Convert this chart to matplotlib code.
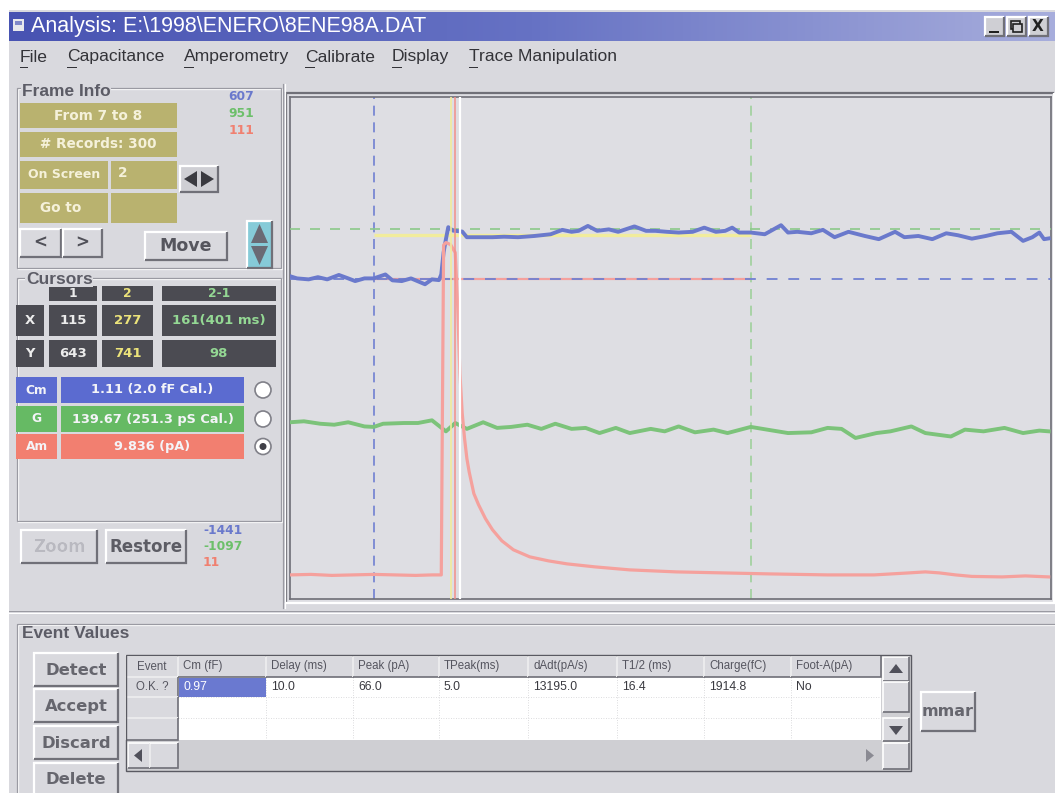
import matplotlib
matplotlib.use("Agg")
import matplotlib.pyplot as plt
from matplotlib.patches import Rectangle, Circle, Polygon
from matplotlib.colors import LinearSegmentedColormap
import numpy as np

x_window = [79, 406]            # samples visible on screen
cursor_x = [115, 277]           # cursor 1, cursor 2 (samples)
event_marks = [148, 150, 152]   # onset (yellow), peak (red), marker (white)

cm_range = [-1441, 607]         # blue trace scale (bottom, top labels)
g_range = [-1097, 951]          # green trace scale
amp_range = [11, 111]           # red trace scale (pA)

cm_levels = [-135, 67]          # pre / post Cm levels (dashed)
cursor_levels = [-135, 45]      # cursor 1 / cursor 2 levels (Cm units)

cm_s = [79, 82, 87, 91, 95, 100, 104, 107, 111, 115,
        120, 123, 127, 131, 137, 140, 143, 144, 145, 146,
        147, 149, 153, 155, 160, 166, 171, 177, 184, 191,
        196, 200, 203, 207, 211, 216, 220, 227, 232, 236,
        241, 246, 252, 257, 262, 266, 269, 272, 277, 283,
        290, 293, 297, 303, 308, 313, 319, 326, 332, 339,
        343, 349, 355, 361, 366, 372, 378, 383, 389, 394,
        398, 401, 403, 405]
cm_v = [-124, -133, -137, -128, -137, -119, -133, -144, -133, -133,
        -117, -141, -144, -133, -157, -137, -140, -117, -27, 27,
        76, 62, 58, 35, 35, 35, 37, 35, 40, 47,
        65, 57, 61, 81, 61, 67, 57, 79, 61, 61,
        57, 54, 57, 74, 57, 61, 74, 54, 54, 47,
        84, 54, 57, 51, 65, 35, 57, 40, 27, 57,
        35, 40, 27, 51, 43, 29, 40, 51, 57, 20,
        35, 54, 27, 30]

g_s = [79, 85, 92, 98, 104, 111, 115, 119, 128, 134,
       140, 146, 150, 155, 162, 168, 174, 181, 187, 193,
       200, 206, 212, 219, 225, 234, 240, 246, 253, 261,
       267, 277, 284, 293, 303, 310, 316, 322, 331, 337,
       346, 352, 363, 369, 377, 386, 394, 401, 405]
g_v = [-376, -372, -382, -386, -376, -393, -395, -382, -379, -379,
       -368, -413, -379, -403, -376, -399, -395, -386, -403, -382,
       -403, -399, -420, -399, -420, -403, -413, -393, -417, -406,
       -420, -395, -406, -420, -417, -399, -403, -440, -420, -413,
       -393, -420, -434, -406, -413, -399, -420, -410, -413]

amp_s = [79, 88, 97, 106, 115, 124, 133, 140, 144, 145,
         146, 148, 150, 151, 152, 153, 154, 155, 156, 158,
         160, 163, 166, 170, 175, 182, 190, 198, 210, 225,
         245, 265, 285, 310, 330, 345, 352, 358, 365, 372,
         385, 395, 405]
amp_v = [15.8, 15.9, 15.7, 15.8, 15.9, 15.8, 15.7, 15.8, 15.8, 81.5,
         82.0, 81.6, 80.0, 70.0, 56.0, 48.0, 43.0, 39.0, 36.3, 32.0,
         29.8, 27.0, 24.8, 22.6, 20.8, 19.4, 18.6, 18.0, 17.4, 16.8,
         16.4, 16.2, 16.0, 15.8, 15.8, 16.2, 16.4, 16.2, 15.8, 15.5,
         15.4, 15.6, 15.4]

scale_top = ["607", "951", "111"]
scale_bottom = ["-1441", "-1097", "11"]
menu_items = ["File", "Capacitance", "Amperometry", "Calibrate", "Display", "Trace Manipulation"]
frame_info = ["From 7 to 8", "# Records: 300", "On Screen", "2", "Go to"]
cursor_hdr = ["1", "2", "2-1"]
cursor_rows = [["X", "115", "277", "161(401 ms)"], ["Y", "643", "741", "98"]]
readouts = [["Cm", "1.11 (2.0 fF Cal.)"], ["G", "139.67 (251.3 pS Cal.)"], ["Am", "9.836 (pA)"]]
table_cols = ["Event", "Cm (fF)", "Delay (ms)", "Peak (pA)", "TPeak(ms)",
              "dAdt(pA/s)", "T1/2 (ms)", "Charge(fC)", "Foot-A(pA)"]
table_row = ["O.K. ?", "0.97", "10.0", "66.0", "5.0", "13195.0", "16.4", "1914.8", "No"]
buttons = ["Detect", "Accept", "Discard", "Delete"]

# ---------------- colours ----------------
WIN = '#d9d9de'
PLOT_BG = '#dedee3'
BLUE = '#6a79cc'
GREEN = '#7cc37a'
RED = '#f5a19d'
YELLOW = '#f1ec9c'
OLIVE = '#b9b26f'
DARK = '#4b4b52'
SHADOW = '#707078'
BTN_TXT = '#66666e'

W, H = 1055, 793
fig = plt.figure(figsize=(W / 100, H / 100), dpi=100)
fig.patch.set_facecolor('white')
bg = fig.add_axes([0, 0, 1, 1])
bg.set_xlim(0, W)
bg.set_ylim(H, 0)
bg.axis('off')
PX = 0.72  # points per pixel


def box(x0, y0, x1, y1, fc, ec='none', lw=0, z=1):
    bg.add_patch(Rectangle((x0, y0), x1 - x0, y1 - y0, facecolor=fc,
                           edgecolor=ec, linewidth=lw, zorder=z))


def bevel(x0, y0, x1, y1, fc=WIN, raised=True, z=2, w=1.6):
    box(x0, y0, x1, y1, fc, z=z)
    light, dark = ('white', SHADOW) if raised else (SHADOW, 'white')
    bg.plot([x0, x0, x1], [y1, y0, y0], color=light, lw=w * PX * 1.4, zorder=z + 0.1,
            solid_capstyle='butt', solid_joinstyle='miter')
    bg.plot([x0, x1, x1], [y1, y1, y0], color=dark, lw=w * PX * 1.4, zorder=z + 0.1,
            solid_capstyle='butt', solid_joinstyle='miter')


def txt(x, y, s, size=9, color='#303030', weight='normal', ha='left',
        family='DejaVu Sans', z=5, **kw):
    return bg.text(x, y, s, fontsize=size, color=color, fontweight=weight, ha=ha,
                   va='center', family=family, zorder=z, **kw)


def etched(x0, y0, x1, y1):
    bg.add_patch(Rectangle((x0, y0), x1 - x0, y1 - y0, fill=False,
                           edgecolor='#9a9aa2', lw=0.9, zorder=1.5))
    bg.add_patch(Rectangle((x0 + 1.3, y0 + 1.3), x1 - x0, y1 - y0, fill=False,
                           edgecolor='white', lw=0.9, zorder=1.4))


def tri(points, color='#303030', z=6):
    bg.add_patch(Polygon(points, closed=True, facecolor=color, edgecolor='none', zorder=z))


# window body
box(9, 10, W, H, WIN, z=0.5)

# title bar with gradient
cmap = LinearSegmentedColormap.from_list('tb', ['#4853b2', '#6672c4', '#a7addc'])
bg.imshow(np.linspace(0, 1, 256)[None, :], cmap=cmap, extent=(9, W, 41, 12),
          aspect='auto', zorder=1, interpolation='bilinear')
box(13, 19, 24, 31, '#e8e8ec', z=2)
box(15, 21, 22, 25, '#8088c8', z=2.1)
txt(31, 26.5, r"Analysis: E:\1998\ENERO\8ENE98A.DAT", size=15.5, color='white',
    family='Liberation Sans')
for i, g in enumerate(['_', '', 'X']):
    x0 = 985 + i * 22
    bevel(x0, 17, x0 + 19, 36, fc='#cfcfd4', z=2)
bg.plot([990, 998], [32, 32], color='#202020', lw=2 * PX, zorder=3)
box(1011, 21, 1020, 29, 'none', ec='#202020', lw=1.2, z=3)
box(1013, 24, 1022, 32, '#cfcfd4', ec='#202020', lw=1.2, z=3.1)
txt(1038, 26.5, 'X', size=11, weight='bold', color='#202020', ha='center', z=4)

# menu bar
menu_x = [20, 67, 184, 305, 392, 469]
first_w = [7, 9, 9, 9, 9, 8]
for m, x, fw in zip(menu_items, menu_x, first_w):
    txt(x, 57, m, size=12.6, color='#333338', family='Liberation Sans')
    bg.plot([x, x + fw], [66.5, 66.5], color='#333338', lw=1 * PX, zorder=5)

# ---------------- left panel ----------------
bg.plot([283, 283], [84, 608], color='#9a9aa2', lw=1.2 * PX, zorder=1.5)
bg.plot([284.5, 284.5], [84, 608], color='white', lw=1.2 * PX, zorder=1.5)

etched(17, 88, 281, 268)
txt(22, 91, "Frame Info", size=12.5, weight='bold', color='#5c5c66',
    family='Liberation Sans', z=6,
    bbox=dict(facecolor=WIN, edgecolor='none', pad=0.5))

CREAM = '#f5f1da'
box(20, 103, 177, 128, OLIVE, z=2)
txt(98.5, 115.5, frame_info[0], size=9.8, weight='bold', color=CREAM, ha='center')
box(20, 132, 177, 157, OLIVE, z=2)
txt(98.5, 144.5, frame_info[1], size=9.8, weight='bold', color=CREAM, ha='center')
box(20, 161, 108, 189, OLIVE, z=2)
txt(64, 175, frame_info[2], size=9.0, weight='bold', color=CREAM, ha='center')
box(111, 161, 177, 189, OLIVE, z=2)
txt(118, 173, frame_info[3], size=9.8, weight='bold', color=CREAM)
box(20, 193, 108, 223, OLIVE, z=2)
txt(61, 208, frame_info[4], size=9.8, weight='bold', color=CREAM, ha='center')
box(111, 193, 177, 223, OLIVE, z=2)

bevel(180, 166, 218, 192, fc='#cfcfd4', z=2)
tri([(184, 179), (197, 171), (197, 187)], color='#3a3a40')
tri([(214, 179), (201, 171), (201, 187)], color='#3a3a40')

bevel(20, 229, 61, 257, z=2)
txt(40.5, 243, "<", size=12, weight='bold', color='#505058', ha='center')
bevel(63, 229, 102, 257, z=2)
txt(82.5, 243, ">", size=12, weight='bold', color='#505058', ha='center')
bevel(145, 232, 227, 260, z=2)
txt(186, 246, "Move", size=12.5, weight='bold', color='#55555d', ha='center')

bevel(247, 221, 272, 268, fc='#86cbd8', z=2)
tri([(259.5, 224), (251, 243), (268, 243)], color='#6a6a74')
tri([(259.5, 265), (251, 246), (268, 246)], color='#6a6a74')

scale_cols = [BLUE, '#6cbf6a', '#f08070']
for i, (lab, c) in enumerate(zip(scale_top, scale_cols)):
    txt(254, 97 + i * 16.5, lab, size=8.8, weight='bold', color=c, ha='right')

# Cursors panel
etched(17, 278, 281, 521)
txt(26, 279, "Cursors", size=12.5, weight='bold', color='#5c5c66',
    family='Liberation Sans', z=6,
    bbox=dict(facecolor=WIN, edgecolor='none', pad=0.5))
hdr_cols = ['#ececec', '#ece37a', '#94d894']
cells_x = [(49, 97), (102, 153), (162, 276)]
for (x0, x1), lab, c in zip(cells_x, cursor_hdr, hdr_cols):
    box(x0, 286, x1, 301, DARK, z=2)
    txt((x0 + x1) / 2, 293.5, lab, size=8.8, weight='bold', color=c, ha='center')
for r, (y0, y1) in enumerate([(305, 336), (340, 367)]):
    row = cursor_rows[r]
    box(16, y0, 44, y1, DARK, z=2)
    txt(30, (y0 + y1) / 2, row[0], size=9.5, weight='bold', color='#ececec', ha='center')
    for (x0, x1), lab, c in zip(cells_x, row[1:], hdr_cols):
        box(x0, y0, x1, y1, DARK, z=2)
        txt((x0 + x1) / 2, (y0 + y1) / 2, lab, size=9.5, weight='bold', color=c, ha='center')

ro_cols = ['#5b6bd0', '#66ba64', '#f27f70']
ro_y = [(377, 403), (406, 432), (434, 459)]
for (lab, val), c, (y0, y1) in zip(readouts, ro_cols, ro_y):
    box(16, y0, 57, y1, c, z=2)
    box(61, y0, 244, y1, c, z=2)
    txt(36.5, (y0 + y1) / 2, lab, size=8.8, weight='bold', color='#f4f4f8', ha='center')
    txt(152.5, (y0 + y1) / 2, val, size=9.3, weight='bold', color='#f4f4f8', ha='center')
for i, (y0, y1) in enumerate(ro_y):
    cy = (y0 + y1) / 2
    bg.add_patch(Circle((263, cy), 8, facecolor='white', edgecolor='#808088',
                        lw=1.2, zorder=3))
    if i == 2:
        bg.add_patch(Circle((263, cy), 3.5, facecolor='#404048', edgecolor='none', zorder=4))

bevel(21, 530, 97, 563, z=2)
txt(60, 547.5, "Zoom", size=12, weight='bold', color='white', ha='center', z=5)
txt(59, 546.5, "Zoom", size=12, weight='bold', color='#b9b9c0', ha='center', z=5.1)
bevel(106, 530, 186, 563, z=2)
txt(146, 546.5, "Restore", size=12, weight='bold', color='#5c5c64', ha='center')
for i, (lab, c) in enumerate(zip(scale_bottom, scale_cols)):
    txt(203, 531 + i * 15.5, lab, size=8.8, weight='bold', color=c, ha='left')

# ---------------- plot frame ----------------
bevel(286, 93, 1054, 603, fc=PLOT_BG, raised=False, z=1)

# ---------------- event values panel ----------------
bg.plot([9, W], [611, 611], color='#9a9aa2', lw=1 * PX, zorder=1.5)
bg.plot([9, W], [612.5, 612.5], color='white', lw=1 * PX, zorder=1.5)
etched(17, 624, W + 5, H + 5)
txt(22, 634, "Event Values", size=12.5, weight='bold', color='#5c5c66',
    family='Liberation Sans', z=6,
    bbox=dict(facecolor=WIN, edgecolor='none', pad=0.5))
btn_y = [(653, 686), (689, 722), (726, 759), (763, 795)]
for lab, (y0, y1) in zip(buttons, btn_y):
    bevel(34, y0, 118, y1, z=2)
    txt(76, (y0 + y1) / 2 + 1, lab, size=11.8, weight='bold', color=BTN_TXT, ha='center')

col_x = [126, 178, 266, 353, 439, 528, 617, 704, 791, 881]
rows_y = [656, 677, 697, 718, 740]
box(126, 655, 911, 771, '#cfcfd3', z=1.6)
box(178, 677, 881, 740, 'white', z=1.7)
for i, lab in enumerate(table_cols):
    x0, x1 = col_x[i], col_x[i + 1]
    bevel(x0, 656, x1, 677, z=2, w=1.2)
    txt(x0 + 5 if i else (x0 + x1) / 2, 666.5, lab, size=8.3, color='#55555f',
        family='Liberation Sans', ha='left' if i else 'center')
for j in range(3):
    bevel(126, rows_y[j + 1], 178, rows_y[j + 2], z=2, w=1.2)
txt(152, 687, table_row[0], size=8.3, color='#55555f', family='Liberation Sans', ha='center')
box(179, 678, 266, 697, '#6a79d0', z=2)
txt(183, 687.5, table_row[1], size=8.8, color='white', family='Liberation Sans')
for i in range(2, len(table_row)):
    txt(col_x[i] + 5, 687.5, table_row[i], size=8.8, color='#3a3a40', family='Liberation Sans')
for x in col_x[2:-1]:
    bg.plot([x, x], [677, 740], color='#d0d0d4', lw=0.6, ls=(0, (1, 2)), zorder=1.8)
for y in rows_y[2:4]:
    bg.plot([178, 881], [y, y], color='#d0d0d4', lw=0.6, ls=(0, (1, 2)), zorder=1.8)
# horizontal scrollbar
bevel(128, 743, 150, 768, z=2, w=1.2)
tri([(134, 755.5), (142, 749), (142, 762)], color='#50505a')
bevel(150, 743, 178, 768, z=2, w=1.2)
tri([(874, 755.5), (866, 749), (866, 762)], color='#8a8a92')
# vertical scrollbar
bevel(883, 657, 909, 681, z=2, w=1.2)
tri([(896, 664), (889, 673), (903, 673)], color='#50505a')
bevel(883, 682, 909, 712, z=2, w=1.2)
bevel(883, 718, 909, 741, z=2, w=1.2)
tri([(896, 735), (889, 726), (903, 726)], color='#50505a')
bevel(883, 743, 909, 769, z=2, w=1.2)
bg.add_patch(Rectangle((126, 655), 785, 116, fill=False, edgecolor='#5a5a62', lw=1.0, zorder=2.5))

bevel(921, 692, 975, 731, z=2)
txt(948, 712, "mmar", size=11.5, weight='bold', color=BTN_TXT, ha='center')

bg.set_xlim(0, W)
bg.set_ylim(H, 0)

# ---------------- traces ----------------
pos = [290 / W, 1 - 599 / H, (1051 - 290) / W, (599 - 97) / H]
ax0 = fig.add_axes(pos, label='base')
ax0.set_xlim(x_window)
ax0.set_facecolor(PLOT_BG)
ax0.set_xticks([])
ax0.set_yticks([])
for sp in ax0.spines.values():
    sp.set_color('#6e6e76')
    sp.set_linewidth(1.2)
ax0.axvline(cursor_x[0], color='#7080d2', lw=1.2, ls=(0, (6, 4)))
ax0.axvline(cursor_x[1], color='#9fd09c', lw=1.2, ls=(0, (6, 4)))

ax_g = fig.add_axes(pos, label='g', sharex=ax0)
ax_g.set_ylim(g_range)
ax_g.axis('off')
ax_g.plot(g_s, g_v, color=GREEN, lw=2.8, solid_joinstyle='round')

ax_b = fig.add_axes(pos, label='cm', sharex=ax0)
ax_b.set_ylim(cm_range)
ax_b.axis('off')
ax_b.axhline(cm_levels[1], color='#8cc98a', lw=1.2, ls=(0, (6, 6)))
ax_b.hlines(cursor_levels[1], cursor_x[0], cursor_x[1], color=YELLOW, lw=2.4)
ax_b.hlines(cursor_levels[0], cursor_x[0], cursor_x[1], color=RED, lw=1.6)
ax_b.axhline(cm_levels[0], color='#7080d2', lw=1.3, ls=(0, (6, 6)))
ax_b.plot(cm_s, cm_v, color=BLUE, lw=2.8, solid_joinstyle='round')

ax_r = fig.add_axes(pos, label='amp', sharex=ax0)
ax_r.set_ylim(amp_range)
ax_r.axis('off')
ax_r.plot(amp_s, amp_v, color=RED, lw=2.3, solid_joinstyle='round')

ax_m = fig.add_axes(pos, label='marks', sharex=ax0)
ax_m.set_ylim(0, 1)
ax_m.axis('off')
ax_m.axvline(event_marks[0], color=YELLOW, lw=1.2)
ax_m.axvline(event_marks[1], color='#f28f8a', lw=1.1)
ax_m.axvline(event_marks[2], color='white', lw=1.6)
ax0.set_xlim(x_window)

fig.savefig('out.png', dpi=100, facecolor='white')
